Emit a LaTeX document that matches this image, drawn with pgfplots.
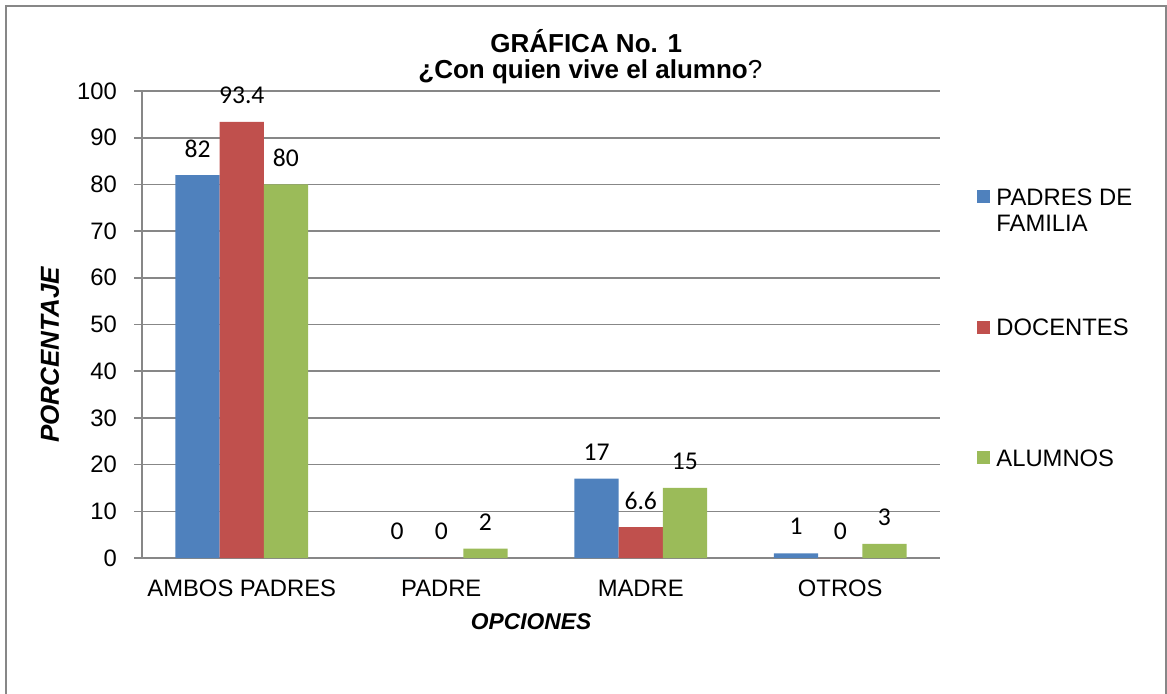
\documentclass[border=0pt]{standalone}
\usepackage{pgfplots}
\pgfplotsset{compat=1.18}
\usepackage{fontspec}
\setmainfont{Liberation Sans}
\newfontfamily\calibri{Carlito}
\definecolor{xblue}{HTML}{4F81BD}
\definecolor{xred}{HTML}{C0504D}
\definecolor{xgreen}{HTML}{9BBB59}
\definecolor{gridgray}{HTML}{878787}
\newcommand\lblfont{\fontsize{11.9}{14}\selectfont}

\begin{document}
\begin{tikzpicture}
\useasboundingbox (0,0) rectangle (583.5pt,346.5pt);
\begin{axis}[at={(71pt,67.5pt)}, anchor=south west, scale only axis,
  width=399pt, height=233.5pt, clip=false,
  ybar, bar width=0.2216,
  ymin=0, ymax=100, xmin=-0.5, xmax=3.5,
  xtick={0,1,2,3}, xticklabels={AMBOS PADRES,PADRE,MADRE,OTROS},
  ytick={0,10,...,100},
  axis lines*=left,
  axis line style={gridgray, line width=0.8pt, -},
  ymajorgrids, major grid style={gridgray, line width=0.8pt},
  tick align=outside, major tick length=4pt,
  y tick style={gridgray, line width=0.8pt},
  x tick style={draw=none},
  tick label style={font=\lblfont},
  /pgf/number format/assume math mode=true,
  xticklabel style={yshift=-3.5pt},
  yticklabel style={xshift=-5pt},
  xlabel={\bfseries\itshape OPCIONES},
  xlabel style={at={(axis description cs:0.4875,-0.137)}, anchor=center, font=\fontsize{11.4}{14}\selectfont},
  ylabel={\bfseries\itshape PORCENTAJE},
  ylabel style={at={(axis description cs:-0.1153,0.4347)}, anchor=center, rotate=0, font=\fontsize{13}{15}\selectfont},
  nodes near coords,
  nodes near coords style={font=\calibri\fontsize{12.8}{14}\selectfont, anchor=center, yshift=13.3pt, text=black},
]
\addplot[fill=xblue, draw=none, bar shift=-0.2216] coordinates {(0,82) (1,0) (2,17) (3,1)};
\addplot[fill=xred, draw=none, bar shift=0] coordinates {(0,93.4) (1,0) (2,6.6) (3,0)};
\addplot[fill=xgreen, draw=none, bar shift=0.2216] coordinates {(0,80) (1,2) (2,15) (3,3)};
\node[anchor=base, font=\bfseries\fontsize{13}{15}\selectfont] at (axis description cs:0.5566,1.0835) {GRÁFICA No. 1};
\node[anchor=base, font=\fontsize{13}{15}\selectfont] at (axis description cs:0.5618,1.0278) {{\bfseries ¿Con quien vive el alumno}?};
\end{axis}
\begin{scope}[x=0.5pt,y=0.5pt]
\draw[gridgray, line width=1pt] (6,-5) -- (6,687) -- (1166,687) -- (1166,-5);
\fill[xblue] (977,490) rectangle (990,503);
\fill[xred] (977,359) rectangle (990,372);
\fill[xgreen] (977,229) rectangle (990,242);
\node[anchor=base west, inner sep=0, font=\lblfont] at (996,488) {PADRES DE};
\node[anchor=base west, inner sep=0, font=\lblfont] at (996,461.3) {FAMILIA};
\node[anchor=base west, inner sep=0, font=\lblfont] at (996,358) {DOCENTES};
\node[anchor=base west, inner sep=0, font=\lblfont] at (996,227) {ALUMNOS};
\end{scope}
\end{tikzpicture}
\end{document}
